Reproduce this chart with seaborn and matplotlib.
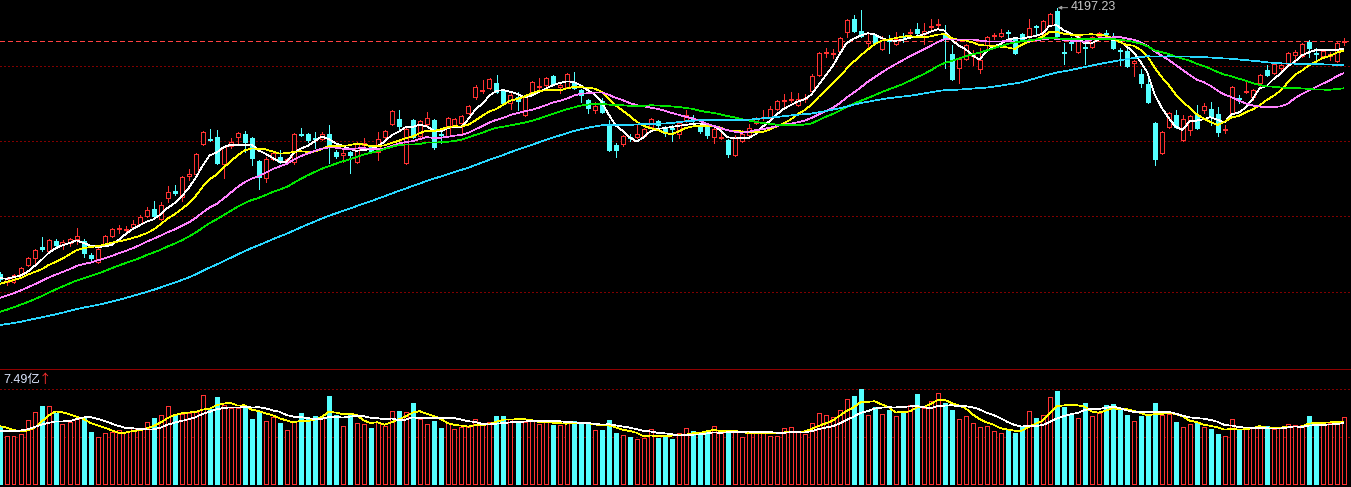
import numpy as np
import pandas as pd
import matplotlib
matplotlib.use("Agg")
import matplotlib.pyplot as plt
import seaborn as sns

# daily bars, oldest first (price points, volume in 亿)
open_ = [3931, 3923, 3923, 3931, 3940, 3947, 3958, 3954, 3964, 3960,
         3962, 3966, 3964, 3950, 3943, 3960, 3969, 3976, 3975, 3978,
         3981, 3989, 3996, 3986, 4007, 4014, 4008, 4029, 4031, 4061,
         4066, 4068, 4041, 4059, 4068, 4071, 4067, 4044, 4027, 4046,
         4048, 4044, 4043, 4071, 4071, 4067, 4066, 4071, 4053, 4050,
         4053, 4043, 4060, 4058, 4053, 4068, 4081, 4086, 4042, 4085,
         4069, 4081, 4085, 4071, 4069, 4079, 4082, 4092, 4108, 4114,
         4117, 4122, 4114, 4102, 4108, 4090, 4111, 4118, 4120, 4129,
         4118, 4118, 4122, 4115, 4105, 4095, 4104, 4080, 4060, 4061,
         4068, 4068, 4069, 4078, 4084, 4078, 4077, 4071, 4084, 4087,
         4080, 4081, 4068, 4067, 4065, 4050, 4064, 4070, 4082, 4087,
         4088, 4096, 4104, 4105, 4100, 4106, 4114, 4130, 4152, 4151,
         4154, 4173, 4186, 4174, 4162, 4170, 4156, 4165, 4161, 4169,
         4172, 4176, 4171, 4178, 4180, 4171, 4151, 4137, 4146, 4149,
         4136, 4160, 4169, 4169, 4173, 4166, 4171, 4168, 4179, 4171,
         4180, 4194, 4153, 4163, 4153, 4158, 4158, 4169, 4172, 4166,
         4155, 4154, 4142, 4131, 4121, 4082, 4052, 4078, 4090, 4065,
         4075, 4090, 4095, 4096, 4091, 4075, 4092, 4107, 4113, 4108,
         4122, 4135, 4132, 4137, 4141, 4150, 4149, 4163, 4152, 4149,
         4149, 4144, 4163]
high = [3933, 3928, 3931, 3938, 3948, 3956, 3968, 3966, 3966, 3965,
        3967, 3977, 3966, 3952, 3957, 3970, 3977, 3980, 3979, 3985,
        3990, 3998, 4004, 4003, 4019, 4020, 4029, 4036, 4052, 4074,
        4076, 4075, 4059, 4067, 4073, 4074, 4068, 4045, 4048, 4053,
        4055, 4047, 4072, 4077, 4072, 4073, 4073, 4080, 4055, 4057,
        4054, 4063, 4067, 4060, 4073, 4075, 4095, 4095, 4077, 4086,
        4085, 4093, 4086, 4074, 4088, 4087, 4090, 4100, 4120, 4125,
        4127, 4130, 4115, 4113, 4113, 4109, 4124, 4127, 4128, 4130,
        4123, 4132, 4133, 4116, 4106, 4103, 4107, 4085, 4062, 4070,
        4071, 4080, 4077, 4087, 4085, 4079, 4080, 4083, 4095, 4090,
        4082, 4082, 4077, 4078, 4066, 4070, 4075, 4081, 4088, 4095,
        4099, 4105, 4111, 4113, 4112, 4111, 4131, 4153, 4157, 4156,
        4168, 4186, 4190, 4195, 4172, 4171, 4169, 4170, 4173, 4172,
        4176, 4182, 4182, 4186, 4186, 4180, 4160, 4147, 4161, 4155,
        4157, 4169, 4172, 4176, 4175, 4167, 4172, 4186, 4180, 4185,
        4192, 4197.23, 4162, 4168, 4170, 4162, 4169, 4173, 4175, 4172,
        4157, 4158, 4145, 4136, 4129, 4083, 4074, 4093, 4095, 4090,
        4090, 4100, 4102, 4103, 4098, 4080, 4119, 4110, 4123, 4116,
        4131, 4140, 4142, 4143, 4153, 4155, 4162, 4165, 4157, 4155,
        4153, 4163, 4167]
low = [3924, 3920, 3922, 3930, 3939, 3942, 3954, 3953, 3958, 3956,
       3959, 3961, 3948, 3943, 3942, 3959, 3968, 3972, 3972, 3976,
       3980, 3988, 3988, 3985, 4003, 4010, 4004, 4025, 4030, 4060,
       4064, 4041, 4027, 4057, 4062, 4053, 4040, 4016, 4023, 4045,
       4042, 4041, 4041, 4069, 4063, 4057, 4065, 4042, 4047, 4043,
       4032, 4042, 4055, 4052, 4045, 4067, 4080, 4075, 4041, 4067,
       4068, 4080, 4056, 4062, 4068, 4078, 4072, 4091, 4106, 4112,
       4116, 4112, 4101, 4096, 4095, 4089, 4110, 4113, 4115, 4120,
       4112, 4117, 4116, 4103, 4092, 4092, 4092, 4054, 4048, 4059,
       4064, 4067, 4068, 4077, 4075, 4069, 4064, 4067, 4083, 4081,
       4072, 4067, 4062, 4066, 4048, 4049, 4063, 4069, 4081, 4085,
       4087, 4095, 4098, 4103, 4099, 4103, 4113, 4129, 4148, 4147,
       4153, 4168, 4173, 4168, 4158, 4161, 4155, 4152, 4160, 4163,
       4168, 4171, 4161, 4175, 4177, 4137, 4125, 4122, 4145, 4140,
       4132, 4157, 4166, 4168, 4168, 4151, 4165, 4167, 4170, 4170,
       4179, 4168, 4141, 4155, 4152, 4141, 4157, 4168, 4166, 4156,
       4140, 4138, 4129, 4118, 4102, 4040, 4051, 4077, 4077, 4064,
       4070, 4076, 4092, 4080, 4069, 4072, 4091, 4102, 4112, 4105,
       4117, 4129, 4131, 4135, 4140, 4143, 4148, 4148, 4144, 4148,
       4145, 4143, 4160]
close = [3926, 3926, 3930, 3937, 3947, 3955, 3956, 3965, 3960, 3963,
         3966, 3969, 3952, 3947, 3956, 3969, 3976, 3977, 3976, 3981,
         3988, 3995, 3989, 4000, 4013, 4012, 4028, 4031, 4051, 4073,
         4065, 4042, 4058, 4063, 4072, 4063, 4047, 4028, 4046, 4052,
         4043, 4046, 4071, 4070, 4065, 4066, 4071, 4058, 4049, 4052,
         4050, 4062, 4062, 4053, 4066, 4074, 4094, 4079, 4076, 4068,
         4084, 4087, 4058, 4070, 4087, 4086, 4089, 4099, 4118, 4115,
         4126, 4113, 4102, 4110, 4104, 4108, 4123, 4119, 4127, 4121,
         4120, 4131, 4117, 4110, 4097, 4099, 4093, 4055, 4055, 4069,
         4067, 4071, 4076, 4086, 4080, 4072, 4076, 4082, 4090, 4086,
         4074, 4070, 4076, 4068, 4051, 4068, 4071, 4077, 4087, 4088,
         4096, 4104, 4105, 4106, 4106, 4107, 4129, 4152, 4153, 4152,
         4167, 4185, 4174, 4169, 4164, 4162, 4165, 4164, 4166, 4168,
         4173, 4172, 4174, 4179, 4181, 4166, 4126, 4146, 4160, 4150,
         4145, 4168, 4170, 4172, 4172, 4152, 4166, 4177, 4178, 4184,
         4191, 4169, 4152, 4162, 4169, 4157, 4168, 4172, 4171, 4157,
         4154, 4139, 4144, 4122, 4103, 4046, 4073, 4092, 4078, 4086,
         4089, 4077, 4099, 4088, 4073, 4076, 4118, 4106, 4114, 4115,
         4130, 4130, 4141, 4140, 4152, 4153, 4161, 4157, 4151, 4154,
         4151, 4162, 4164]
volume = [4.60, 3.76, 3.76, 3.94, 5.04, 5.65, 6.15, 6.15, 5.62, 4.70,
          4.86, 5.17, 5.25, 4.10, 3.73, 3.99, 4.12, 4.26, 4.12, 4.39,
          4.26, 4.86, 5.23, 5.44, 6.15, 5.52, 5.49, 5.57, 5.70, 7.01,
          5.91, 6.86, 6.23, 5.96, 5.96, 6.04, 5.12, 5.70, 4.96, 5.31,
          4.83, 4.26, 4.91, 5.62, 5.23, 5.36, 5.23, 6.93, 5.44, 4.57,
          5.57, 4.78, 4.70, 4.44, 4.86, 4.57, 5.75, 5.78, 5.65, 6.41,
          5.12, 4.73, 4.96, 4.44, 4.78, 4.33, 4.52, 4.52, 5.10, 4.70,
          4.86, 5.36, 5.36, 5.12, 4.86, 4.86, 4.96, 4.70, 4.99, 4.65,
          4.65, 4.78, 4.96, 4.78, 4.78, 4.26, 4.26, 5.04, 4.02, 3.86,
          3.73, 3.55, 3.65, 4.33, 3.65, 3.86, 3.55, 3.99, 4.39, 4.18,
          3.99, 4.18, 4.57, 3.99, 4.12, 4.12, 3.70, 4.07, 4.18, 4.18,
          3.78, 3.78, 4.39, 4.49, 4.12, 3.94, 4.78, 5.57, 5.44, 5.25,
          5.83, 6.70, 6.93, 7.49, 5.44, 6.04, 5.52, 5.83, 5.36, 5.62,
          6.23, 7.09, 6.01, 6.54, 7.17, 6.41, 5.83, 5.12, 5.36, 4.78,
          4.49, 4.55, 4.18, 3.99, 4.26, 4.04, 4.47, 5.75, 5.23, 5.44,
          6.86, 7.35, 6.09, 5.49, 5.23, 6.41, 5.36, 5.62, 6.23, 6.30,
          5.91, 5.44, 4.96, 5.38, 5.36, 6.41, 5.44, 5.52, 4.86, 4.49,
          4.70, 4.86, 4.52, 4.33, 3.94, 3.78, 5.12, 4.33, 4.39, 4.44,
          4.52, 4.57, 4.33, 4.39, 4.70, 4.65, 4.65, 5.36, 4.78, 4.65,
          4.83, 4.86, 5.25]

# closes / volumes before the visible window, only used to seed the averages
warmup_close = [3872, 3868, 3861, 3858, 3864, 3870, 3875, 3871, 3866, 3860,
                3857, 3862, 3869, 3874, 3878, 3873, 3867, 3862, 3865, 3870,
                3868, 3863, 3859, 3864, 3871, 3876, 3872, 3866, 3862, 3868,
                3861, 3856, 3860, 3866, 3870, 3864, 3859, 3865, 3872, 3877,
                3880, 3884, 3879, 3886, 3893, 3890, 3897, 3902, 3909, 3910,
                3905, 3911, 3918, 3914, 3927, 3930, 3922, 3929, 3928]
warmup_volume = [3.62, 3.85, 3.71, 3.96, 3.81, 4.38, 4.71, 4.52, 4.64]

ma_days = [5, 10, 20, 30, 60]
ma_colors = ['#ffffff', '#ffff00', '#ff80ff', '#00e600', '#28d8ff']
vol_ma_days = [5, 10]
vol_ma_colors = ['#ffff00', '#ffffff']
grid_levels = [4139, 4064, 3989, 3913]

RED = '#ff3232'
CYAN = '#54ffff'
GRID = '#800000'

df = pd.DataFrame({'open': open_, 'high': high, 'low': low,
                   'close': close, 'volume': volume})
df['day'] = np.arange(len(df))
all_close = pd.Series(warmup_close + close, dtype=float)
for n in ma_days:
    df[f'MA{n}'] = all_close.rolling(n).mean().iloc[len(warmup_close):].to_numpy()
all_vol = pd.Series(warmup_volume + volume, dtype=float)
for n in vol_ma_days:
    df[f'VMA{n}'] = all_vol.rolling(n).mean().iloc[len(warmup_volume):].to_numpy()

up = df['close'] >= df['open']
dn = ~up

sns.set_style('dark', {'axes.facecolor': 'black', 'figure.facecolor': 'black'})
W, H = 1351, 487
fig = plt.figure(figsize=(W / 100, H / 100), dpi=100)
ax = fig.add_axes([0, 119 / H, 1, 368 / H])
axv = fig.add_axes([0, 0, 1, 118 / H])
for a in (ax, axv):
    a.set_facecolor('black')
    a.set_axis_off()
    a.set_xlim(0.5 / 7, (W + 0.5) / 7)
ax.set_ylim(4205 - 368, 4205)
vpp = 7.49 / 95
axv.set_ylim(-3 * vpp, 115 * vpp)

lw = 0.72
aa = False
# price panel grid
for g in grid_levels:
    ax.axhline(g + 0.5, color=GRID, lw=0.6, ls=(0, (1.5, 3)), zorder=0, antialiased=aa)
ax.axhline(df['close'].iloc[-1] + 0.5, color='#ff4040', lw=0.7, ls=(0, (5, 3.5)),
           zorder=0, antialiased=aa)

# candles
u, d = df[up], df[dn]
top_u = u[['open', 'close']].max(axis=1)
bot_u = u[['open', 'close']].min(axis=1)
ax.vlines(u['day'], top_u, u['high'], color=RED, lw=lw, zorder=2, antialiased=aa)
ax.vlines(u['day'], u['low'], bot_u, color=RED, lw=lw, zorder=2, antialiased=aa)
ax.bar(u['day'], (u['close'] - u['open']).clip(lower=0.6), bottom=u['open'],
       width=4 / 7, facecolor='black', edgecolor=RED, lw=lw, zorder=3,
       antialiased=aa)
ax.vlines(d['day'], d['low'], d['high'], color=CYAN, lw=lw, zorder=2, antialiased=aa)
ax.bar(d['day'], d['close'] - d['open'], bottom=d['open'],
       width=4 / 7, color=CYAN, edgecolor=CYAN, lw=lw, zorder=3, antialiased=aa)

for n, c in zip(ma_days, ma_colors):
    sns.lineplot(data=df, x='day', y=f'MA{n}', color=c, lw=0.5, ax=ax,
                 legend=False, zorder=4, antialiased=aa)
ax.set_axis_off()

# peak label
imax = df['high'].idxmax()
ax.annotate(f"{df['high'].max():.2f}", xy=(imax + 0.2, df['high'].max()),
            xytext=(13, 0.5), textcoords='offset pixels', ha='left', va='center',
            color='#c8c8c8', fontsize=9, family=['Liberation Sans', 'DejaVu Sans'],
            arrowprops=dict(arrowstyle='-|>', color='#a0a0a0', lw=0.7,
                            shrinkA=0, shrinkB=0, mutation_scale=5), zorder=6)

# volume panel
for g in (7.49, 7.49 / 2):
    axv.axhline(g, color=GRID, lw=0.6, ls=(0, (1.5, 3)), zorder=0, antialiased=aa)
axv.bar(u['day'], u['volume'], width=4 / 7, facecolor='black', edgecolor=RED,
        lw=lw, zorder=2, antialiased=aa)
axv.bar(d['day'], d['volume'], width=4 / 7, color=CYAN, edgecolor=CYAN,
        lw=lw, zorder=2, antialiased=aa)
for n, c in zip(vol_ma_days, vol_ma_colors):
    sns.lineplot(data=df, x='day', y=f'VMA{n}', color=c, lw=0.5, ax=axv,
                 legend=False, zorder=3, antialiased=aa)
axv.set_axis_off()

fig.add_artist(plt.Line2D([0, 1], [1 - 368.5 / H] * 2, color='#900000', lw=0.72,
                          antialiased=aa))

fam = ['Liberation Sans', 'Noto Sans CJK SC', 'DejaVu Sans']
fig.text(3 / W, 1 - 380 / H, '7.49亿', color='#dce6ff', fontsize=9, family=fam,
         ha='left', va='center')
fig.text(39 / W, 1 - 380 / H, '↑', color='#ff3030', fontsize=9,
         family=['Noto Sans CJK SC', 'DejaVu Sans'], ha='left', va='center')

fig.savefig('out.png', dpi=100, facecolor='black')
